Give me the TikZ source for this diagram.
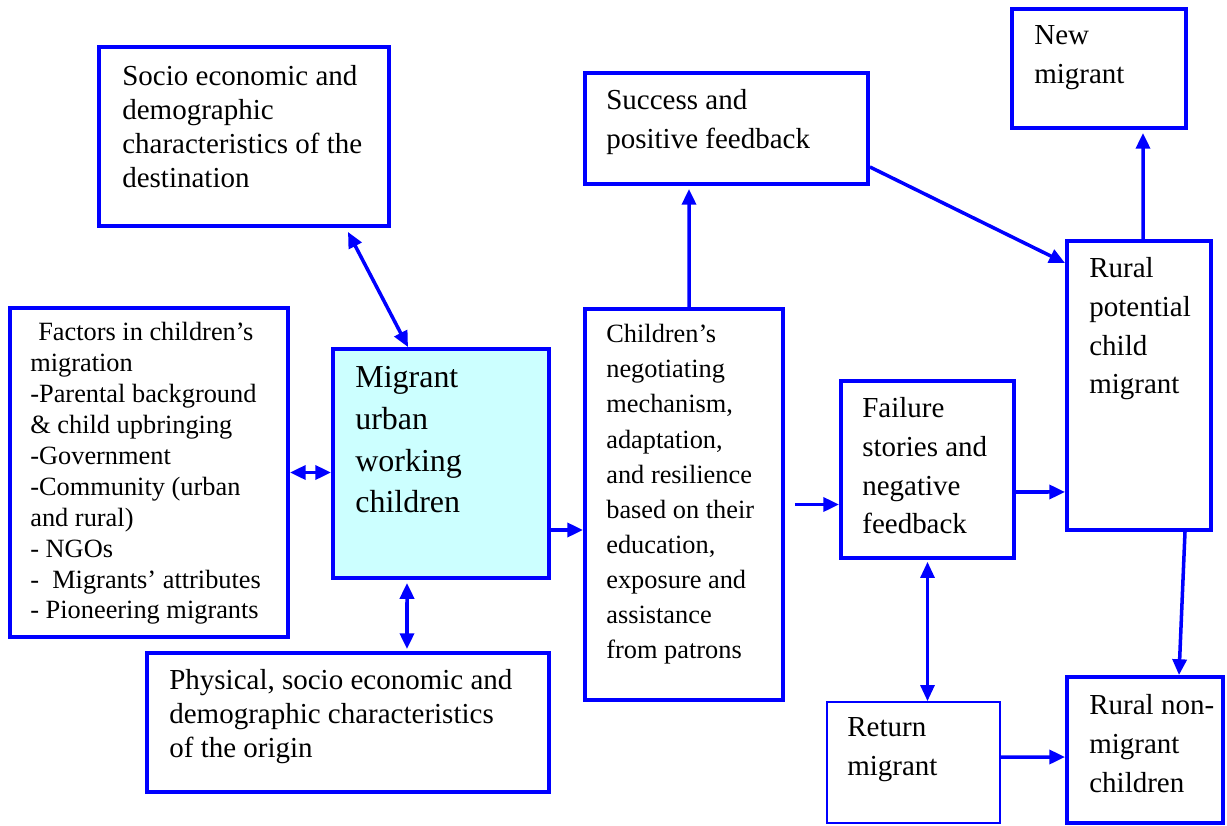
\documentclass[tikz,border=0pt]{standalone}
\usepackage{fontspec}
\setmainfont{Liberation Serif}
\usetikzlibrary{fit,arrows.meta}

\definecolor{boxblue}{RGB}{0,0,255}
\definecolor{lightcyan}{RGB}{204,255,255}

\tikzset{
  box/.style={draw=boxblue,line width=2.2pt,inner sep=0pt},
  thinbox/.style={draw=boxblue,line width=1.1pt,inner sep=0pt},
  txt/.style={anchor=north west,inner sep=0pt,align=left,font=\fontsize{16.5}{22.1}\selectfont},
  arr/.style={draw=boxblue,line width=2pt,-{Triangle[length=9pt,width=8pt]}},
  darr/.style={draw=boxblue,line width=2pt,{Triangle[length=9pt,width=8pt]}-{Triangle[length=9pt,width=8pt]}}
}

\begin{document}
\begin{tikzpicture}[x=0.02cm,y=-0.02cm]
\useasboundingbox (0,0) rectangle (1227,825);

% boxes
\node[box,fit={(99,47) (389,226)}] (dest) {};
\node[box,fit={(585,73) (868,184)}] (succ) {};
\node[box,fit={(1012,9) (1186,128)}] (newm) {};
\node[box,fit={(10,308) (288,637)}] (fac) {};
\node[box,fill=lightcyan,fit={(333,349) (549,578)}] (mig) {};
\node[box,fit={(585,309) (783,700)}] (neg) {};
\node[box,fit={(841,381) (1014,558)}] (fail) {};
\node[box,fit={(1067,241) (1211,530)}] (rpot) {};
\node[box,fit={(147,653) (549,792)}] (phys) {};
\node[thinbox,fit={(827,702) (1000,823)}] (ret) {};
\node[box,fit={(1067,677) (1223,823)}] (rnon) {};

% texts
\node[txt,font=\fontsize{16.5}{19.3}\selectfont] (dest-t) at (122,65)
  {Socio economic and\\demographic\\characteristics of the\\destination};
\node[txt] (succ-t) at (606,89) {Success and\\positive feedback};
\node[txt] (newm-t) at (1034,25) {New\\migrant};
\node[txt,font=\fontsize{15}{17.6}\selectfont] (fac-t) at (30,322)
  {\hspace*{0.3em}Factors in children's\\migration\\-Parental background\\
   \& child upbringing\\-Government\\-Community (urban\\and rural)\\- NGOs\\
   -\ \ Migrants' attributes\\- Pioneering migrants};
\node[txt,font=\fontsize{18.2}{23.8}\selectfont] (mig-t) at (355,366)
  {Migrant\\urban\\working\\children};
\node[txt,font=\fontsize{15}{20}\selectfont] (neg-t) at (606,324)
  {Children's\\negotiating\\mechanism,\\adaptation,\\and resilience\\based on their\\
   education,\\exposure and\\assistance\\from patrons};
\node[txt] (fail-t) at (862,397) {Failure\\stories and\\negative\\feedback};
\node[txt] (rpot-t) at (1089,257) {Rural\\potential\\child\\migrant};
\node[txt,font=\fontsize{16.5}{19.3}\selectfont] (phys-t) at (169,669)
  {Physical, socio economic and\\demographic characteristics\\of the origin};
\node[txt] (ret-t) at (847,717) {Return\\migrant};
\node[txt] (rnon-t) at (1089,694) {Rural non-\\migrant\\children};

% connectors
\draw[darr] ([xshift=2.08cm,yshift=-0.08cm]dest.south) -- ([xshift=-0.66cm]mig.north);
\draw[darr] (fac.east) -- (mig.west |- fac.east);
\draw[darr] ([xshift=-0.68cm,yshift=-0.06cm]mig.south) -- ([xshift=1.18cm,yshift=0.04cm]phys.north);
\draw[arr] ([yshift=-1.33cm]mig.east) -- ([yshift=-0.51cm]neg.west);
\draw[arr] ([xshift=0.1cm]neg.north) -- ([xshift=-0.75cm,yshift=-0.06cm]succ.south);
\draw[arr] ([yshift=-0.77cm]succ.east) -- ([yshift=2.45cm]rpot.west);
\draw[arr] ([xshift=0.2cm]neg.east) -- (fail.west |- neg.east);
\draw[arr] ([yshift=-0.45cm]fail.east) -- ([yshift=-2.13cm]rpot.west);
\draw[arr] ([xshift=0.08cm]rpot.north) -- ([xshift=0.88cm,yshift=-0.06cm]newm.south);
\draw[darr,line width=1.4pt] ([yshift=-0.04cm]fail.south) -- (ret.north -| fail.south);
\draw[arr] ([yshift=0.11cm]ret.east) -- ([yshift=-0.14cm]rnon.west);
\draw[arr] ([xshift=0.92cm]rpot.south) -- ([xshift=0.68cm]rnon.north);
\end{tikzpicture}
\end{document}
